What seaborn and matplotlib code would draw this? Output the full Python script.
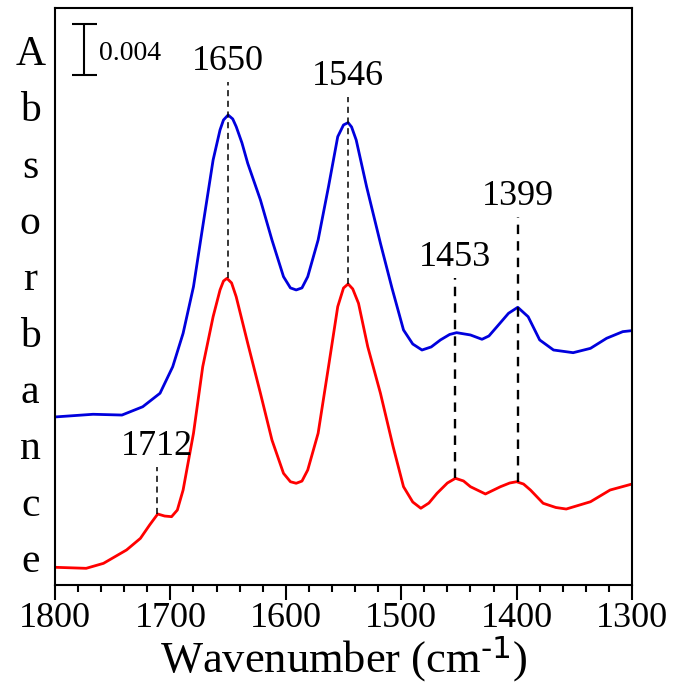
"""FTIR absorbance spectra, two offset traces with marked peak positions."""
import matplotlib
matplotlib.use('Agg')
import matplotlib.pyplot as plt
import numpy as np
import pandas as pd
import seaborn as sns
from matplotlib.ticker import MultipleLocator

# --- data (wavenumber in cm-1, absorbance incl. offset) ---
blue_wn = [1800, 1767, 1742, 1724, 1709, 1698, 1689, 1680, 1672, 1663, 1657, 1654,
           1650, 1646, 1643, 1638, 1633, 1622, 1612, 1602, 1596, 1591, 1586, 1581,
           1572, 1563, 1555, 1550, 1546, 1543, 1539, 1530, 1518, 1508, 1498, 1490,
           1482, 1474, 1466, 1458, 1452, 1440, 1430, 1424, 1417, 1407, 1399, 1390,
           1380, 1368, 1351, 1336, 1322, 1308, 1300]
blue_abs = [0.01318, 0.01339, 0.01333, 0.01398, 0.01504, 0.01712, 0.01974, 0.02340,
            0.02810, 0.03333, 0.03569, 0.03647, 0.03686, 0.03655, 0.03595, 0.03467,
            0.03307, 0.03020, 0.02706, 0.02418, 0.02330, 0.02314, 0.02330, 0.02418,
            0.02706, 0.03124, 0.03516, 0.03608, 0.03626, 0.03592, 0.03490, 0.03124,
            0.02680, 0.02329, 0.02000, 0.01890, 0.01843, 0.01867, 0.01922, 0.01965,
            0.01979, 0.01961, 0.01927, 0.01953, 0.02026, 0.02131, 0.02178, 0.02104,
            0.01922, 0.01843, 0.01822, 0.01856, 0.01935, 0.01987, 0.01995]

red_wn = [1800, 1773, 1758, 1738, 1726, 1718, 1711, 1705, 1699, 1694, 1689, 1680,
          1672, 1663, 1657, 1654, 1651, 1647, 1643, 1633, 1622, 1612, 1602, 1596,
          1591, 1586, 1581, 1572, 1563, 1555, 1550, 1546, 1542, 1537, 1529, 1518,
          1507, 1498, 1490, 1483, 1476, 1469, 1460, 1453, 1446, 1440, 1427, 1414,
          1406, 1400, 1394, 1388, 1377, 1366, 1357, 1336, 1319, 1300]
red_abs = [0.00139, 0.00131, 0.00170, 0.00275, 0.00366, 0.00471, 0.00557, 0.00541,
           0.00536, 0.00588, 0.00745, 0.01190, 0.01712, 0.02104, 0.02314, 0.02384,
           0.02405, 0.02369, 0.02261, 0.01896, 0.01504, 0.01137, 0.00876, 0.00810,
           0.00798, 0.00815, 0.00902, 0.01190, 0.01712, 0.02183, 0.02329, 0.02361,
           0.02322, 0.02209, 0.01869, 0.01504, 0.01085, 0.00771, 0.00651, 0.00602,
           0.00643, 0.00719, 0.00800, 0.00837, 0.00816, 0.00771, 0.00714, 0.00771,
           0.00800, 0.00810, 0.00792, 0.00745, 0.00641, 0.00608, 0.00596, 0.00653,
           0.00745, 0.00792]

# peak markers: position, top of dashed guide, bottom (red trace peak)
peak_wn = [1712, 1650, 1546, 1453, 1399]
peak_top = [0.00925, 0.03945, 0.03827, 0.02408, 0.02886]
peak_bottom = [0.00557, 0.02405, 0.02361, 0.00837, 0.00810]
peak_labels = ['1712', '1650', '1546', '1453', '1399']
peak_lw = [1.1, 1.1, 1.1, 1.7, 1.7]

SCALE = 0.004

sns.set_style('ticks')
plt.rcParams['font.family'] = ['Liberation Serif', 'DejaVu Serif']
plt.rcParams['mathtext.default'] = 'regular'
plt.rcParams.update({'text.color': 'black', 'axes.labelcolor': 'black',
                     'xtick.color': 'black', 'axes.edgecolor': 'black'})

fig = plt.figure(figsize=(6.75, 6.84), dpi=100)
ax = fig.add_axes([0.0815, 0.1447, 0.8548, 0.8436])

spectra = pd.concat([
    pd.DataFrame({'wn': blue_wn, 'abs': blue_abs, 'sample': 'blue'}),
    pd.DataFrame({'wn': red_wn, 'abs': red_abs, 'sample': 'red'}),
])
sns.lineplot(data=spectra, x='wn', y='abs', hue='sample', estimator=None,
             palette={'blue': '#0000dd', 'red': '#ff0000'}, linewidth=2.0,
             legend=False, ax=ax)
for line in ax.lines:
    line.set_solid_joinstyle('round')

for wn, top, bot, lab, lw in zip(peak_wn, peak_top, peak_bottom, peak_labels, peak_lw):
    ax.plot([wn, wn], [bot, top], color='black', linestyle=(0, (4, 3)), linewidth=lw)
    ax.annotate(lab, (wn, top), xytext=(0, 3), textcoords='offset points',
                ha='center', va='bottom', fontsize=26)

# scale bar
ax.errorbar(1775, 0.042, yerr=SCALE / 2, color='black', capsize=9,
            capthick=1.5, elinewidth=1.5)
ax.text(1762, 0.0417, f'{SCALE:.3f}', fontsize=20, va='center', ha='left')

ax.set_xlim(1800, 1300)
ax.set_ylim(0, 0.04525)
ax.xaxis.set_major_locator(MultipleLocator(100))
ax.xaxis.set_minor_locator(MultipleLocator(20))
ax.tick_params(axis='x', which='major', length=11, width=1.5, labelsize=26, pad=1.5)
ax.tick_params(axis='x', which='minor', length=5, width=1.5)
ax.set_yticks([])
for side in ax.spines.values():
    side.set_linewidth(1.5)

ax.set_xlabel(r'Wavenumber (cm$^{\text{-1}}$)', fontsize=32, labelpad=-1)
ax.set_ylabel('')

# stacked y label
for letter, yb in zip('Absorbance', np.linspace(0.9012, 0.0225, 10)):
    ax.text(-0.043, yb, letter, transform=ax.transAxes, fontsize=30,
            ha='center', va='baseline')

fig.savefig('out.png', dpi=100)
